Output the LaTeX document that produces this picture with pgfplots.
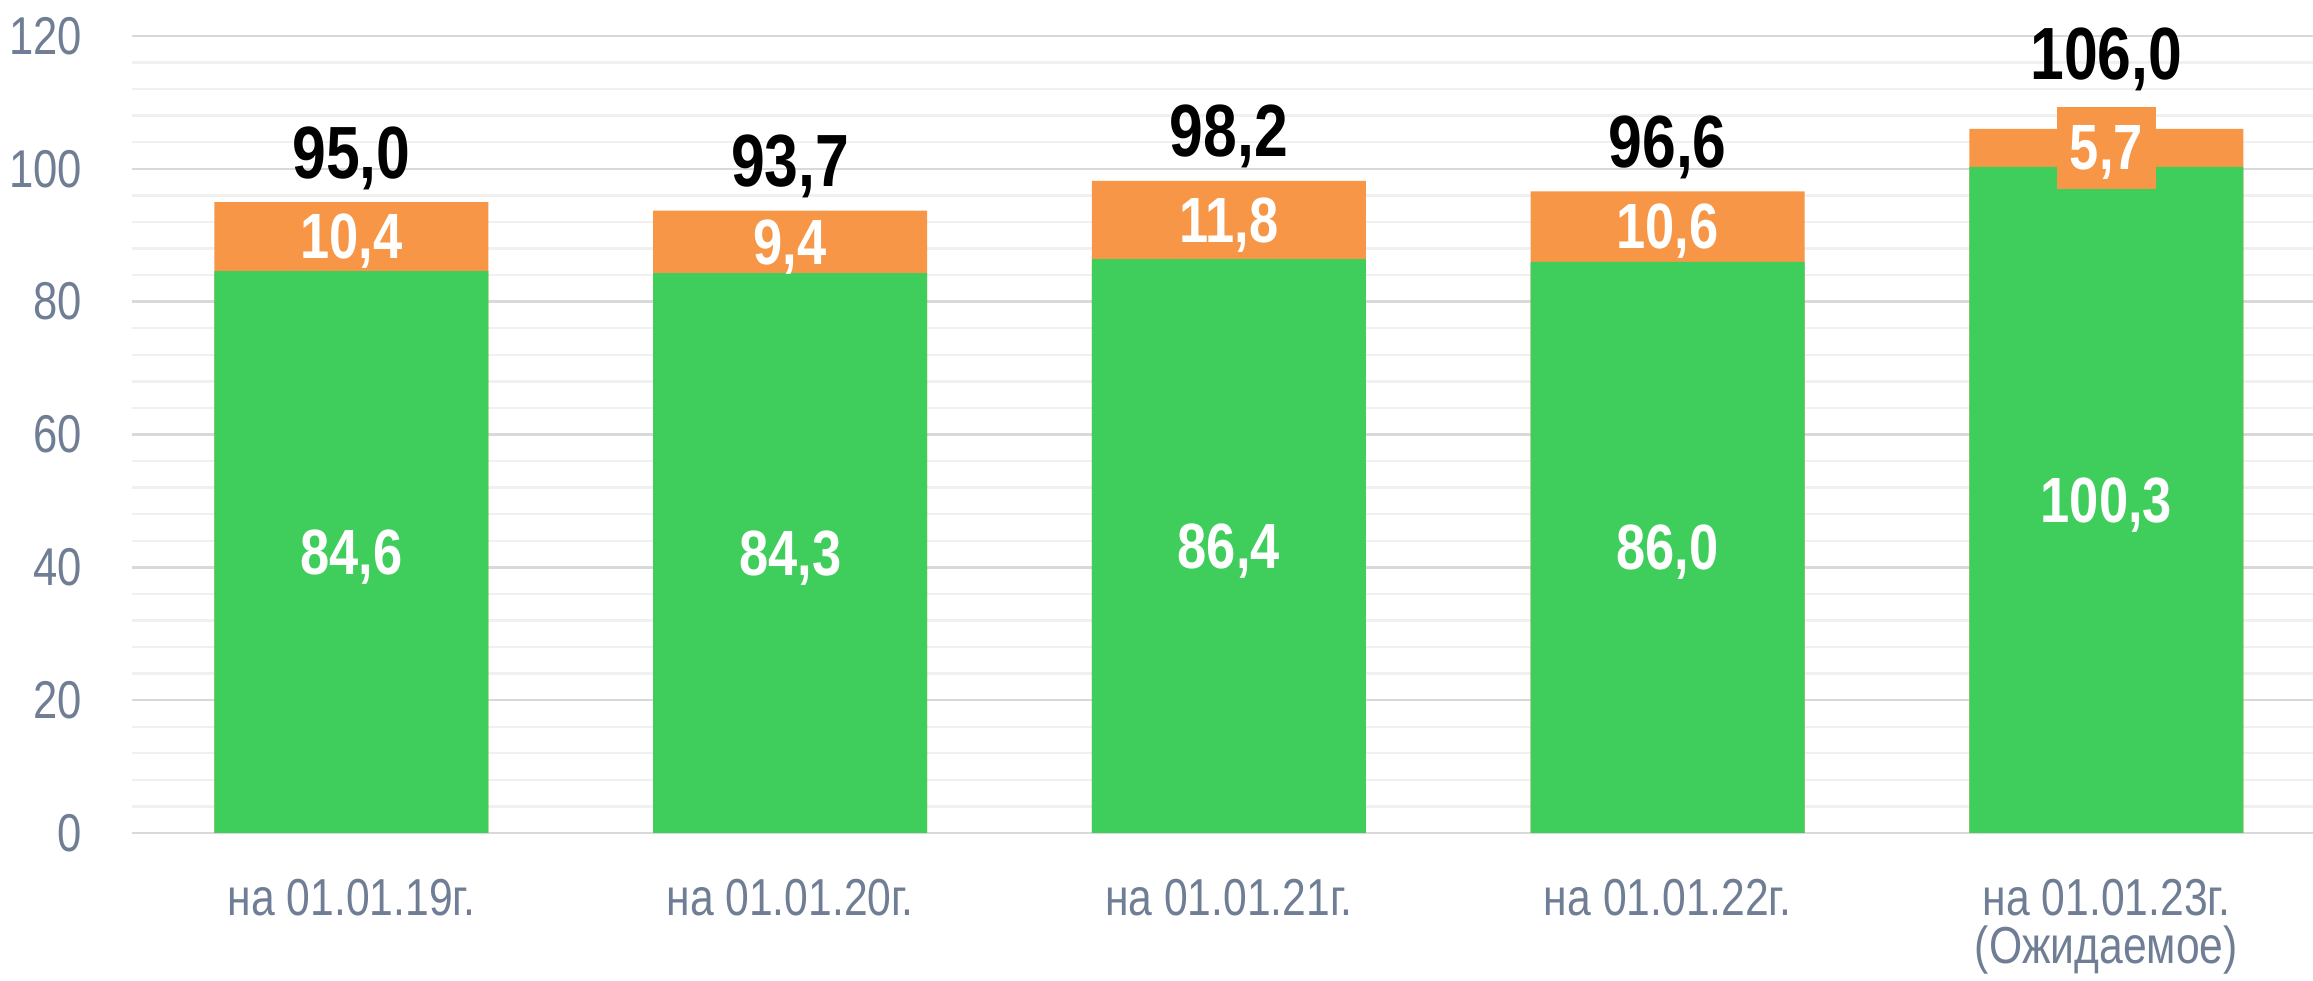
\documentclass[border=0pt]{standalone}
\usepackage{pgfplots}
\usepackage{pgfplotstable}
\pgfplotsset{compat=1.18}
\usepackage{fontspec}
\setmainfont{Liberation Sans}[FakeStretch=0.82]

\definecolor{greenbar}{RGB}{63,206,91}
\definecolor{orangebar}{RGB}{247,150,70}
\definecolor{ticktext}{RGB}{111,126,149}
\definecolor{gridmaj}{RGB}{217,217,217}
\definecolor{gridmin}{RGB}{240,240,240}

% x, green part, orange part, total, height of total label, labels
\pgfplotstableread{
x g o t ty glab olab tlab
0 84.6 10.4 95.0 98.6 84,6 10,4 95,0
1 84.3 9.4 93.7 97.3 84,3 9,4 93,7
2 86.4 11.8 98.2 101.8 86,4 11,8 98,2
3 86.0 10.6 96.6 100.2 86,0 10,6 96,6
4 100.3 5.7 106.0 113.5 100,3 5,7 106,0
}\data

\begin{document}
\begin{tikzpicture}
\begin{axis}[
  at={(0,0)}, anchor=south west,
  scale only axis,
  width=545.25pt, height=199.25pt,
  xmin=-0.5, xmax=4.471,
  ymin=0, ymax=120,
  clip=false,
  axis line style={draw=none},
  tick style={draw=none},
  major tick length=0pt, minor tick length=0pt,
  xtick=data,
  xticklabels={на 01.01.19г., на 01.01.20г., на 01.01.21г., на 01.01.22г., {на 01.01.23г.\\(Ожидаемое)}},
  ytick={0,20,...,120},
  minor y tick num=4,
  ymajorgrids, yminorgrids,
  major grid style={gridmaj, line width=0.6pt},
  minor grid style={gridmin, line width=0.6pt},
  /pgf/number format/assume math mode=true,
  yticklabel style={anchor=east, inner sep=0pt, xshift=-12.25pt,
    font=\fontsize{13.3}{16}\selectfont, text=ticktext},
  xticklabel style={anchor=north, inner sep=0pt, yshift=-11.25pt,
    align=center, font=\fontsize{13}{12}\selectfont, text=ticktext},
]
% totals drawn first, green part laid over them
\addplot[ybar, bar width=0.625, bar shift=0pt, fill=orangebar, draw=none]
  table[x=x, y=t] {\data};
\addplot[ybar, bar width=0.625, bar shift=0pt, fill=greenbar, draw=none]
  table[x=x, y=g] {\data};

% labels in the green part
\addplot[only marks, mark=none, point meta=explicit symbolic,
  nodes near coords,
  every node near coord/.append style={anchor=center, text depth=0pt,
    text=white, font=\bfseries\fontsize{16}{18}\selectfont}]
  table[x=x, y expr=\thisrow{g}/2, meta=glab] {\data};

% labels in the orange part
\addplot[only marks, mark=none, point meta=explicit symbolic,
  x filter/.expression={x<3.5 ? x : nan},
  nodes near coords,
  every node near coord/.append style={anchor=center, text depth=0pt,
    text=white, font=\bfseries\fontsize{16}{18}\selectfont}]
  table[x=x, y expr=\thisrow{g}+\thisrow{o}/2, meta=olab] {\data};
\addplot[only marks, mark=none, point meta=explicit symbolic,
  x filter/.expression={x>3.5 ? x : nan},
  nodes near coords,
  every node near coord/.append style={anchor=center, text depth=0pt,
    fill=orangebar, minimum width=22.25pt, minimum height=20.5pt,
    text=white, font=\bfseries\fontsize{16}{18}\selectfont}]
  table[x=x, y expr=\thisrow{g}+\thisrow{o}/2, meta=olab] {\data};

% totals above the bars
\addplot[only marks, mark=none, point meta=explicit symbolic,
  nodes near coords,
  every node near coord/.append style={anchor=base, inner sep=0pt,
    text=black, font=\bfseries\fontsize{18.5}{20}\selectfont}]
  table[x=x, y=ty, meta=tlab] {\data};
\end{axis}
\pgfresetboundingbox
\path (-33pt,-37pt) rectangle (545.25pt,208.25pt);
\end{tikzpicture}
\end{document}
